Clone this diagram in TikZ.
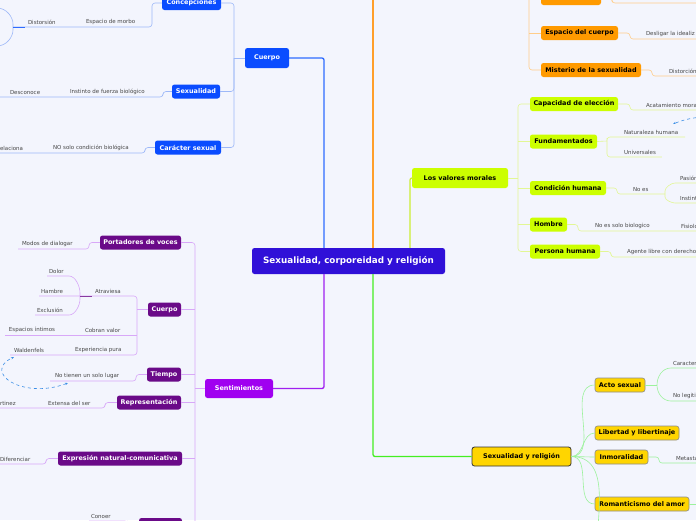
\documentclass[tikz,border=0pt]{standalone}
\usepackage{fontspec}
\setmainfont{DejaVu Sans}
\usetikzlibrary{positioning, arrows.meta, calc}
\definecolor{bgcol}{HTML}{F3F5FD}
\definecolor{mainblue}{HTML}{3010D8}
\definecolor{cblue}{HTML}{0A4CFF}
\definecolor{corange}{HTML}{FF9A00}
\definecolor{clime}{HTML}{CCFF00}
\definecolor{cpurple}{HTML}{A000F0}
\definecolor{cviolet}{HTML}{6A0A88}
\definecolor{cgold}{HTML}{FFD500}
\definecolor{lblue}{HTML}{9DB8F8}
\definecolor{sblue}{HTML}{2E6BFF}
\definecolor{lorange}{HTML}{FFCD8A}
\definecolor{sorange}{HTML}{FF9F2A}
\definecolor{llime}{HTML}{E2F794}
\definecolor{slime}{HTML}{CCEE33}
\definecolor{lpurple}{HTML}{D8A8F8}
\definecolor{spurple}{HTML}{A020F0}
\definecolor{lgreen}{HTML}{9CF29C}
\definecolor{sgreen}{HTML}{44EE22}
\definecolor{dashblue}{HTML}{3A8EE6}

\begin{document}
\begin{tikzpicture}[
    x=1pt, y=-1pt,
    box/.style={rounded corners=2.5pt, inner sep=0pt, minimum height=14pt, font=\fontsize{6.45}{7.5}\selectfont\bfseries, align=center},
    topic/.style={box, fill=mainblue, text=white, minimum height=26pt, font=\fontsize{8.8}{10}\selectfont\bfseries},
    bluebox/.style={box, fill=cblue, text=white},
    orangebox/.style={box, fill=corange, text=black},
    limebox/.style={box, fill=clime, text=black},
    purplebox/.style={box, fill=cpurple, text=white},
    violetbox/.style={box, fill=cviolet, text=white},
    goldbox/.style={box, fill=cgold, draw=black!45, semithick, text=black},
    lbl/.style={font=\fontsize{5.5}{6}\selectfont, text=black!72, inner sep=1.8pt, anchor=south west},
    blink/.style={draw=lblue, semithick, rounded corners=3pt},
    olink/.style={draw=lorange, semithick, rounded corners=3pt},
    llink/.style={draw=llime, semithick, rounded corners=3pt},
    slink/.style={draw=lpurple, semithick, rounded corners=3pt},
    glink/.style={draw=lgreen, semithick},
    stem/.style={line width=1.3pt, rounded corners=2pt},
    dlink/.style={draw=dashblue, dashed, semithick, {Stealth[length=3pt]}-{Stealth[length=3pt]}},
]
\useasboundingbox (0,0) rectangle (696,520);
\clip (0,0) rectangle (696,520);
\fill[bgcol] (0,0) rectangle (696,520);

% central topic
\node[topic, minimum width=193pt] (main) at (348.5,261) {Sexualidad, corporeidad y religión};

% Cuerpo (blue)
\node[bluebox, minimum width=44pt, minimum height=20pt] (cuerpoA) at (267,58) {Cuerpo};
\node[bluebox, minimum width=59pt] (concep) at (191.5,3) {Concepciones};
\node[bluebox, minimum width=48pt] (sexual) at (196,91.5) {Sexualidad};
\node[bluebox, minimum width=66pt] (caracter) at (188,147.5) {Carácter sexual};
\coordinate (bspine) at (234,58);
\draw[stem, sblue] (cuerpoA.east) -| ([xshift=-24.5pt]main.north);
\draw[blink] (concep.east) -| (bspine) |- (caracter.east);
\draw[blink] (sexual.east) -| (bspine);
\draw[blink] (cuerpoA.west) -- (bspine);

\node[lbl] (morbo) at (84,27) {Espacio de morbo};
\node[lbl] (dist) at (26,27) {Distorsión};
\coordinate (cj) at (152,27);
\coordinate (cb) at (13,27);
\coordinate (cbtop) at (-3,8);
\coordinate (cbbot) at (-3,46);
\draw[blink] (concep.west) -| (cj) -- (cb);
\draw[blink] (cbtop) to[out=0,in=90] (cb) to[out=-90,in=0] (cbbot);
\draw[sblue, semithick] (cb) -- ++(12,0);

\node[lbl] (instinto) at (68,97) {Instinto de fuerza biológico};
\node[lbl] (descon) at (8,97) {Desconoce};
\coordinate (sj) at (163,97);
\draw[blink] (sexual.west) -| (sj) -- ([xshift=-12pt]descon.south west);

\node[lbl] (nosolo) at (51,153) {NO solo condición biológica};
\node[lbl] (relac) at (-2,153) {elaciona};
\coordinate (caj) at (145,153);
\draw[blink] (caracter.west) -| (caj) -- ([xshift=-5pt]relac.south west);

% orange branch
\node[orangebox, minimum width=60pt] (otop) at (571,-2) {};
\node[orangebox, minimum width=77pt] (espacio) at (579.5,33) {Espacio del cuerpo};
\node[orangebox, minimum width=100pt] (misterio) at (591,70) {Misterio de la sexualidad};
\coordinate (ospine) at (529,-20);
\coordinate (ostemtop) at (373,-20);
\draw[stem, sorange] (main.north -| ostemtop) -- (ostemtop);
\draw[olink] (ospine) |- (misterio.west);
\draw[olink] (espacio.west) -- (espacio.west -| ospine);
\draw[olink] (otop.west) -- (otop.west -| ospine);

\node[lbl] (desligar) at (644,39) {Desligar la idealiz};
\node[lbl] (distor) at (667,76) {Distorción};
\coordinate (otj) at (612,3);
\coordinate (otend) at (700,3);
\draw[olink] (otop.east) -| (otj) -- (otend);
\draw[olink] (espacio.east) -| ([xshift=-14pt]desligar.south west) -- ([xshift=20pt]desligar.south east);
\draw[olink] (misterio.east) -| ([xshift=-15pt]distor.south west) -- ([xshift=20pt]distor.south east);

% Los valores morales (lime)
\node[limebox, minimum width=96pt, minimum height=20pt] (valores) at (460,178) {Los valores morales};
\node[limebox, minimum width=88pt] (capac) at (574,104) {Capacidad de elección};
\node[limebox, minimum width=67pt] (fund) at (563.5,141.5) {Fundamentados};
\node[limebox, minimum width=76pt] (cond) at (568,188) {Condición humana};
\node[limebox, minimum width=37pt] (hombre) at (548.5,224.5) {Hombre};
\node[limebox, minimum width=70pt] (persona) at (565,251.5) {Persona humana};
\coordinate (vspine) at (518,104);
\draw[stem, slime] ([xshift=61.5pt]main.north) |- (valores.west);
\draw[llink] (capac.west) -- (capac.west -| vspine) |- (persona.west);
\foreach \n in {fund, cond, hombre} {
    \draw[llink] (\n.west) -- (\n.west -| vspine);
}
\draw[llink] (valores.east) -- (valores.east -| vspine);

\node[lbl] (acat) at (644,110) {Acatamiento mora};
\draw[llink] (capac.east) -| ([xshift=-14pt]acat.south west) -- ([xshift=20pt]acat.south east);

\node[lbl] (nathum) at (622,137) {Naturaleza humana};
\node[lbl] (univ) at (622,157) {Universales};
\coordinate (fj) at (607,141);
\draw[llink] (fund.east) -- (fj);
\draw[llink] ([xshift=5pt]nathum.south east) -| (fj) |- ([xshift=4pt]univ.south east);
\coordinate (dsa) at (702,117);
\coordinate (dsb) at (673,124);
\draw[draw=dashblue, dashed, semithick, -{Stealth[length=3pt]}] (dsa) to[bend right=8] (dsb);

\node[lbl] (noes) at (631,194) {No es};
\node[lbl] (pasion) at (678,183) {Pasión};
\node[lbl] (instint) at (678,203) {Instint};
\coordinate (nej) at (665,194);
\draw[llink] (cond.east) -| ([xshift=-14pt]noes.south west) -- (nej);
\draw[llink] ([xshift=20pt]pasion.south east) -- (pasion.south west) to[out=180,in=90] (nej) to[out=-90,in=180] (instint.south west) -- ([xshift=20pt]instint.south east);

\node[lbl] (nosbio) at (593,231) {No es solo biologico};
\node[lbl] (fisio) at (679,231) {Fisiolo};
\draw[llink] (hombre.east) -| ([xshift=-15pt]nosbio.south west) -- ([xshift=20pt]fisio.south east);

\node[lbl] (agente) at (625,257) {Agente libre con derecho};
\draw[llink] (persona.east) -| ([xshift=-14pt]agente.south west) -- ([xshift=20pt]agente.south east);

% Sentimientos (purple)
\node[purplebox, minimum width=68pt, minimum height=19pt] (sent) at (239,388.5) {Sentimientos};
\node[violetbox, minimum width=81pt] (portad) at (140.5,242.5) {Portadores de voces};
\node[violetbox, minimum width=33pt] (cuerpoS) at (164.5,309.5) {Cuerpo};
\node[violetbox, minimum width=34pt] (tiempo) at (164,374.5) {Tiempo};
\node[violetbox, minimum width=64pt] (repres) at (149,402.5) {Representación};
\node[violetbox, minimum width=124pt] (expres) at (120,458.5) {Expresión natural-comunicativa};
\node[violetbox, minimum width=43pt] (sbottom) at (160.5,525) {};
\coordinate (sspine) at (195,243);
\draw[stem, spurple] ([xshift=-24.5pt]main.south) |- (sent.east);
\draw[slink] (portad.east) -- (portad.east -| sspine) -- (sspine |- sbottom.east) -- (sbottom.east);
\foreach \n in {cuerpoS, tiempo, repres, expres} {
    \draw[slink] (\n.east) -- (\n.east -| sspine);
}
\draw[slink] (sent.west) -- (sent.west -| sspine);

\node[lbl] (modos) at (20,249) {Modos de dialogar};
\coordinate (pj) at (89,249);
\draw[slink] (portad.west) -| (pj) -- ([xshift=-2pt]modos.south west);

% Cuerpo sub-branches
\node[lbl] (atrav) at (93,296) {Atraviesa};
\node[lbl] (dolor) at (47,276) {Dolor};
\node[lbl] (hambre) at (39,296) {Hambre};
\node[lbl] (exclus) at (35,315) {Exclusión};
\node[lbl] (cobran) at (83,335) {Cobran valor};
\node[lbl] (espint) at (7,335) {Espacios íntimos};
\node[lbl] (exper) at (73,355) {Experiencia pura};
\node[lbl] (walden) at (12,355) {Waldenfels};
\coordinate (csa) at (137,296);
\coordinate (csb) at (137,355);
\coordinate (bra) at (80,296);
\draw[slink] (hambre.south west) -- (csa) -- (csb) -- ([xshift=-2pt]walden.south west);
\draw[slink] (cuerpoS.west) -- (cuerpoS.west -| csa);
\draw[slink] ([xshift=-2pt]espint.south west) -- (espint.south west -| csa);
\draw[slink] (dolor.south west) -- ++(19,0) to[out=0,in=90] (bra) to[out=-90,in=0] ++(-14,19) -- (exclus.south west);
\draw[cviolet!80, semithick] (bra) -- ++(12,0);

\node[lbl] (nolugar) at (53,381) {No tienen un solo lugar};
\coordinate (tj) at (136,381);
\draw[slink] (tiempo.west) -| (tj) -- ([xshift=-3pt]nolugar.south west);
\coordinate (da) at (68,383);
\coordinate (db) at (14,357);
\draw[dlink] (da) .. controls (22,400) and (-18,372) .. (db);

\node[lbl] (extensa) at (46,408) {Extensa del ser};
\node[lbl] (rtinez) at (-2,408) {rtinez};
\coordinate (rj) at (105,408);
\draw[slink] (repres.west) -| (rj) -- ([xshift=-5pt]rtinez.south west);

\node[lbl] (difer) at (-2,464) {Diferenciar};
\coordinate (ej) at (46,464);
\draw[slink] (expres.west) -| (ej) -- ([xshift=-5pt]difer.south west);

\node[lbl] (conoer) at (89,521) {Conoer};
\coordinate (bj) at (128,521);
\draw[slink] (sbottom.west) -| (bj) -- (conoer.south west);

% Sexualidad y religion (green)
\node[goldbox, minimum width=99pt, minimum height=19pt, draw=black!80, thick] (sr) at (521.5,456.5) {Sexualidad y religión};
\node[goldbox, minimum width=50pt] (acto) at (620,385) {Acto sexual};
\node[goldbox, minimum width=84pt] (libert) at (637,433) {Libertad y libertinaje};
\node[goldbox, minimum width=53pt] (inmoral) at (621.5,457) {Inmoralidad};
\node[goldbox, minimum width=94pt] (romant) at (642,504) {Romanticismo del amor};
\coordinate (nextg) at (596,560);
\draw[stem, sgreen] ([xshift=24.5pt]main.south) |- (sr.west);
\foreach \n in {acto, libert, inmoral, romant} {
    \draw[glink] (sr.east) to[out=0, in=180] (\n.west);
}
\draw[glink] (sr.east) to[out=0, in=90] (nextg);

\node[lbl] (caract) at (671,368) {Caracter};
\node[lbl] (nolegit) at (671,401) {No legiti};
\coordinate (aj) at (657,385);
\draw[glink, thick] (acto.east) -- (aj);
\draw[glink] ([xshift=10pt]caract.south east) -- (caract.south west) to[out=180,in=90] (aj) to[out=-90,in=180] (nolegit.south west) -- ([xshift=10pt]nolegit.south east);

\node[lbl] (metasta) at (674,463) {Metasta};
\coordinate (imj) at (659,463);
\draw[glink, rounded corners=3pt] (inmoral.east) -| (imj) -- ([xshift=10pt]metasta.south east);
\draw[glink] (romant.east) -- ++(10,0);

\end{tikzpicture}
\end{document}
